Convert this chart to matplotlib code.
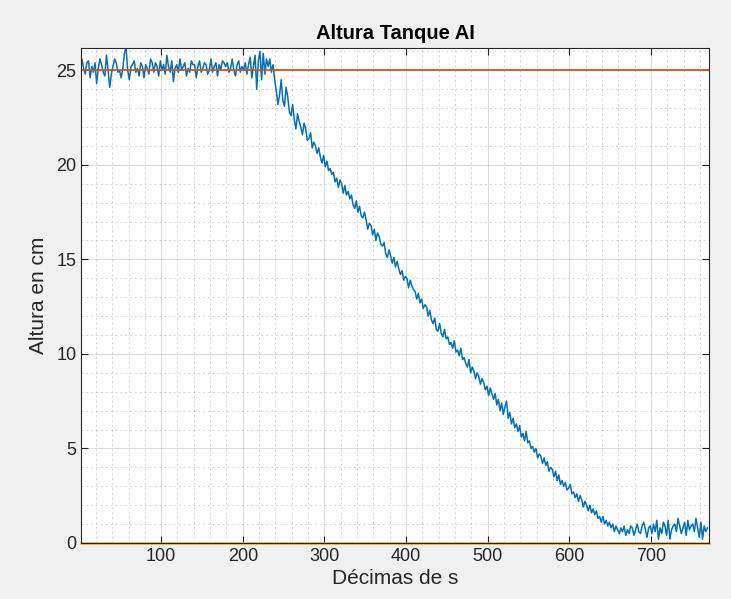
import numpy as np
import matplotlib
matplotlib.use("Agg")
import matplotlib.pyplot as plt
from matplotlib.ticker import MultipleLocator

plt.rcParams['font.family'] = ['Liberation Sans', 'DejaVu Sans']

# muestras cada 2 décimas de s (1, 3, 5, ... 769)
altura_estable = [
    25.3, 25.6, 25.1, 24.8, 25.4, 25.5, 24.6, 25.2, 24.9, 25.4,
    24.3, 25.1, 25.6, 25.3, 24.9, 24.7, 25.8, 25.0, 24.1, 24.8,
    25.2, 25.6, 25.4, 24.9, 25.0, 24.6, 25.1, 25.9, 26.2, 25.0,
    24.5, 25.2, 25.3, 25.5, 24.9, 25.1, 24.7, 25.4, 25.2, 24.6,
    25.3, 25.1, 24.8, 25.6, 25.4, 24.9, 25.4, 25.2, 24.7, 25.5,
    25.0, 25.3, 24.8, 25.8, 25.2, 24.9, 25.5, 24.4, 25.1, 25.3,
    24.9, 25.6, 25.0, 25.2, 25.4, 24.7, 25.1, 24.9, 25.5, 25.3,
    25.3, 24.6, 25.2, 25.5, 24.9, 25.1, 25.4, 25.3, 24.8, 25.0,
    25.6, 24.9, 25.2, 25.4, 24.7, 25.3, 25.0, 25.5, 25.4, 25.2,
    25.4, 24.9, 25.1, 25.6, 25.0, 24.7, 25.3, 25.5, 24.9, 25.2,
    25.0, 25.4, 24.8, 25.3, 25.7, 24.6, 25.2, 25.8, 24.0, 25.5,
    26.0, 24.5, 25.9, 24.8, 25.6,
]
altura_descenso = [
    25.2, 25.6, 24.9, 25.3, 24.5, 23.9, 23.2, 23.7, 24.5, 23.4,
    23.1, 24.1, 23.6, 22.8, 22.6, 23.2, 22.4, 21.9, 22.7, 22.3,
    22.0, 21.6, 22.2, 21.9, 21.3, 21.4, 21.7, 20.9, 21.2, 21.0,
    20.6, 20.9, 20.4, 20.1, 20.5, 19.9, 20.2, 19.7, 19.8, 19.5,
    19.6, 19.1, 19.3, 18.8, 19.2, 19.0, 18.5, 18.9, 18.4, 18.6,
    18.2, 18.4, 17.9, 17.7, 18.1, 17.5, 17.8, 17.3, 17.2, 17.5,
    17.1, 16.6, 16.9, 16.8, 16.3, 16.6, 16.0, 16.4, 16.2, 15.8,
    15.7, 15.9, 15.3, 15.1, 15.5, 15.2, 14.8, 15.1, 14.6, 14.9,
    14.5, 14.2, 14.4, 13.9, 14.1, 14.0, 13.5, 13.9, 13.6, 13.4,
    13.3, 12.9, 13.2, 12.7, 12.9, 12.4, 12.6, 12.5, 12.0, 12.3,
    11.8, 11.6, 11.9, 11.3, 11.2, 11.6, 11.1, 10.9, 11.3, 10.8,
    10.9, 10.5, 10.6, 10.3, 10.7, 10.1, 10.2, 9.9, 10.3, 9.7,
    9.8, 9.5, 9.3, 9.7, 9.0, 9.3, 9.1, 8.7, 9.0, 8.8,
    8.4, 8.7, 8.5, 8.1, 8.3, 7.8, 8.2, 7.9, 7.6, 7.9,
    7.3, 7.6, 7.0, 7.4, 6.8, 7.2, 7.5, 6.6, 6.9, 6.3,
    6.6, 6.1, 6.3, 5.9, 6.2, 5.6, 5.8, 5.4, 5.9, 5.3,
    5.4, 5.0, 5.1, 4.8, 5.0, 4.5, 4.7, 4.6, 4.2, 4.5,
    4.1, 4.3, 3.8, 4.0, 3.9, 3.5, 3.8, 3.3, 3.6, 3.1,
    3.3, 3.0, 3.2, 2.8, 2.9, 3.1, 2.6, 2.7, 2.4, 2.6,
    2.2, 2.5, 2.3, 1.9, 2.2, 2.0, 1.7, 2.0, 1.6, 1.8,
    1.5, 1.7, 1.3, 1.4, 1.1, 1.4, 1.0, 1.2, 0.9, 1.1,
    0.8, 1.0, 0.6, 0.9, 0.7, 0.5, 0.8, 0.6, 0.9, 0.4,
    0.7, 0.5, 0.9, 0.8, 0.4, 0.7, 1.0, 0.6, 0.5, 0.9,
    1.1, 0.7, 0.3, 0.8, 0.9, 0.5, 1.0, 0.6, 1.2, 0.2,
    0.8, 0.5, 1.1, 0.9, 0.4, 1.2, 0.2, 0.7, 0.9, 1.0,
    0.6, 1.3, 0.9, 0.5, 0.8, 1.1, 0.4, 1.2, 0.7, 0.9,
    1.0, 0.6, 1.3, 0.8, 0.3, 1.1, 0.2, 0.9, 0.6, 0.8,
]
referencia = 25
nivel_min = 0

altura = np.array(altura_estable + altura_descenso)
t = np.arange(1, 2 * len(altura), 2)

fig = plt.figure(figsize=(7.31, 5.99), dpi=100, facecolor='#f0f0f0')
ax = fig.add_axes([0.111, 0.0935, 0.859, 0.827])

ax.plot(t, altura, color='#0072bd', lw=1.1)
ax.axhline(referencia, color='#d95319', lw=1.3)
ax.axhline(nivel_min, color='#edb120', lw=1.8, clip_on=False)

ax.set_xlim(2, 771)
ax.set_ylim(0, 26.2)
ax.set_xticks([100, 200, 300, 400, 500, 600, 700])
ax.set_yticks([0, 5, 10, 15, 20, 25])
ax.xaxis.set_minor_locator(MultipleLocator(20))
ax.yaxis.set_minor_locator(MultipleLocator(1))

ax.grid(which='major', color='#262626', alpha=0.15, lw=0.8)
ax.grid(which='minor', color='#262626', alpha=0.18, lw=0.7, ls=(0, (2, 3)))
ax.set_axisbelow(True)
ax.tick_params(which='both', direction='in', top=True, right=True,
               colors='#262626', labelsize=13)
ax.tick_params(which='major', length=5, width=0.8)
ax.tick_params(which='minor', length=0)
for s in ax.spines.values():
    s.set_color('#262626')
    s.set_linewidth(0.8)

ax.set_title('Altura Tanque AI', fontsize=14.5, fontweight='bold', color='black', pad=6)
ax.set_xlabel('Décimas de s', fontsize=15, color='#262626', labelpad=3)
ax.set_ylabel('Altura en cm', fontsize=15, color='#262626', labelpad=6)

fig.savefig('out.png', dpi=100, facecolor=fig.get_facecolor())
